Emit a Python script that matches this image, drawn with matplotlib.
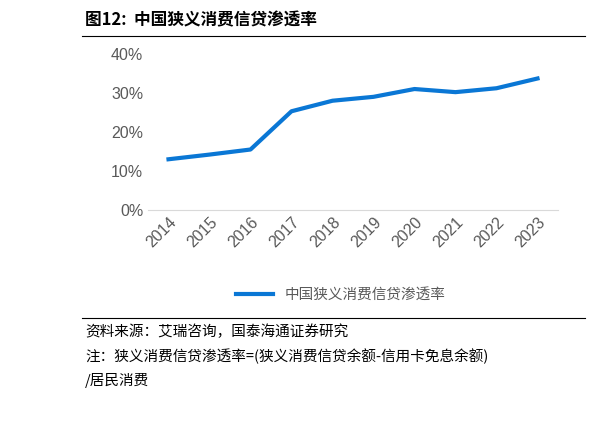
import matplotlib
matplotlib.use("Agg")
import matplotlib.pyplot as plt
from matplotlib.lines import Line2D

plt.rcParams['font.family'] = ['Noto Sans CJK SC', 'DejaVu Sans']

years = ["2014", "2015", "2016", "2017", "2018", "2019", "2020", "2021", "2022", "2023"]
rate = [13.0, 14.2, 15.5, 25.3, 28.0, 29.0, 31.0, 30.2, 31.2, 33.7]
yticks = [0, 10, 20, 30, 40]
blue = "#0A77D5"

fig = plt.figure(figsize=(6.11, 4.25), dpi=100)

# title and rule
fig.text(85 / 611, 1 - 20 / 425, "图12:  中国狭义消费信贷渗透率", fontsize=12,
         fontweight="bold", va="center", ha="left")
fig.add_artist(Line2D([82 / 611, 585 / 611], [1 - 36 / 425] * 2, color="black", lw=0.8))

ax = fig.add_axes([148 / 611, 1 - 210 / 425, 410 / 611, 160 / 425])
ax.plot(range(len(years)), rate, color=blue, lw=3, label="中国狭义消费信贷渗透率")
ax.set_xlim(-0.5, len(years) - 0.5)
ax.set_ylim(0, 41)
ax.set_yticks(yticks)
ax.set_yticklabels([f"{v}%" for v in yticks], color="#595959", fontsize=11.5,
                   family="Liberation Sans")
ax.set_xticks(range(len(years)))
ax.set_xticklabels(years, rotation=45, ha="right", rotation_mode="anchor",
                   color="#595959", fontsize=11.5, family="Liberation Sans")
ax.tick_params(length=0)
for s in ["top", "right", "left"]:
    ax.spines[s].set_visible(False)
ax.spines["bottom"].set_color("#D9D9D9")
ax.legend(loc="center", bbox_to_anchor=(0.47, -0.53), frameon=False,
          fontsize=10.5, handlelength=2.5, labelcolor="#595959")

# source rule and notes
fig.add_artist(Line2D([82 / 611, 585 / 611], [1 - 318 / 425] * 2, color="black", lw=0.8))
fig.text(85 / 611, 1 - 332 / 425, "资料来源：艾瑞咨询，国泰海通证券研究", fontsize=10.5, va="center")
fig.text(85 / 611, 1 - 356 / 425, "注：狭义消费信贷渗透率=(狭义消费信贷余额-信用卡免息余额)",
         fontsize=10.5, va="center")
fig.text(85 / 611, 1 - 380 / 425, "/居民消费", fontsize=10.5, va="center")

fig.savefig("out.png", dpi=100)
